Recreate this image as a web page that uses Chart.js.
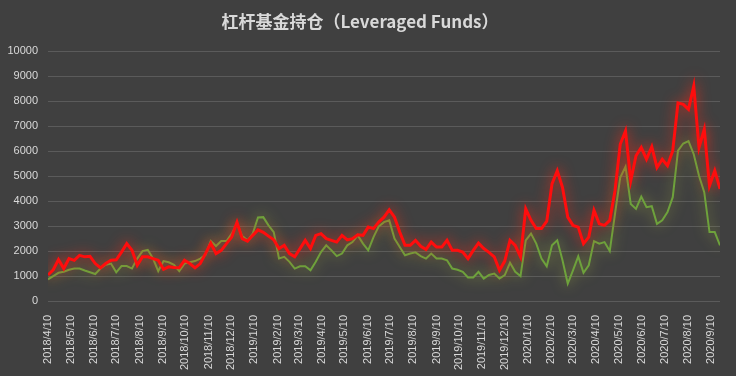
<!DOCTYPE html>
<html>
<head>
<meta charset="utf-8">
<script src="https://cdn.jsdelivr.net/npm/chart.js@4/dist/chart.umd.min.js"></script>
<style>
  html, body { margin: 0; padding: 0; background: #404040; }
  #wrap { width: 736px; height: 376px; position: relative; }
</style>
</head>
<body>
<div id="wrap"><canvas id="fundsChart"></canvas></div>
<script>
// weekly reports, first one on 2018/4/10
const startDate = '2018/4/10';
const weekCount = 129;

const tickLabels = [
  '2018/4/10', '2018/5/10', '2018/6/10', '2018/7/10', '2018/8/10', '2018/9/10',
  '2018/10/10', '2018/11/10', '2018/12/10', '2019/1/10', '2019/2/10', '2019/3/10',
  '2019/4/10', '2019/5/10', '2019/6/10', '2019/7/10', '2019/8/10', '2019/9/10',
  '2019/10/10', '2019/11/10', '2019/12/10', '2020/1/10', '2020/2/10', '2020/3/10',
  '2020/4/10', '2020/5/10', '2020/6/10', '2020/7/10', '2020/8/10', '2020/9/10'
];

const yTicks = [0, 1000, 2000, 3000, 4000, 5000, 6000, 7000, 8000, 9000, 10000];

const redSeries = [
  1040, 1250, 1660, 1300, 1700, 1630, 1830, 1770, 1790, 1500,
  1330, 1500, 1630, 1650, 1960, 2300, 2030, 1430, 1770, 1770,
  1700, 1630, 1270, 1370, 1340, 1330, 1630, 1500, 1330, 1500,
  1900, 2320, 1900, 2030, 2300, 2560, 3160, 2500, 2400, 2630,
  2850, 2750, 2600, 2450, 2100, 2230, 1900, 1770, 2100, 2430,
  2100, 2630, 2700, 2500, 2430, 2360, 2630, 2450, 2500, 2650,
  2630, 2960, 2900, 3160, 3360, 3650, 3360, 2760, 2230, 2230,
  2430, 2190, 2060, 2360, 2160, 2160, 2430, 2030, 2030, 1960,
  1700, 2030, 2320, 2100, 1950, 1770, 1230, 1600, 2430, 2230,
  1770, 3690, 3230, 2900, 2900, 3200, 4690, 5220, 4550, 3360,
  3030, 2960, 2300, 2560, 3630, 3090, 3030, 3230, 4420, 6280,
  6810, 4820, 5820, 6150, 5680, 6180, 5350, 5680, 5420, 6020,
  7940, 7880, 7680, 8610, 6150, 6880, 4620, 5220, 4490
];

const greenSeries = [
  870, 1000, 1130, 1170, 1250, 1300, 1300, 1220, 1150, 1080,
  1300, 1450, 1500, 1150, 1400, 1400, 1300, 1700, 2000, 2050,
  1700, 1200, 1600, 1550, 1450, 1200, 1500, 1550, 1600, 1700,
  1850, 2400, 2200, 2400, 2400, 2700, 3100, 2600, 2430, 2700,
  3350, 3360, 3030, 2760, 1700, 1770, 1570, 1300, 1390, 1390,
  1230, 1570, 1960, 2230, 2030, 1800, 1900, 2230, 2360, 2630,
  2300, 2030, 2560, 2990, 3160, 3230, 2500, 2160, 1830, 1900,
  1950, 1800, 1700, 1900, 1700, 1700, 1630, 1300, 1250, 1170,
  940, 940, 1170, 900, 1040, 1100, 900, 1040, 1530, 1170,
  1000, 2430, 2700, 2300, 1700, 1390, 2230, 2430, 1630, 700,
  1230, 1790, 1130, 1430, 2400, 2300, 2360, 2000, 3490, 4950,
  5380, 3890, 3690, 4180, 3760, 3800, 3090, 3230, 3560, 4160,
  6020, 6310, 6410, 5880, 5020, 4360, 2760, 2760, 2230
];

function dayOffset(label) {
  const [y, m, d] = label.split('/').map(Number);
  const [y0, m0, d0] = startDate.split('/').map(Number);
  return (Date.UTC(y, m - 1, d) - Date.UTC(y0, m0 - 1, d0)) / 86400000;
}

const tickDays = tickLabels.map(dayOffset);
const toPoints = arr => arr.map((v, i) => ({ x: i * 7, y: v }));

// soft halo round each line, like the office glow effect
const glowPlugin = {
  id: 'glow',
  beforeDatasetDraw(chart, args) {
    const ds = chart.data.datasets[args.index];
    chart.ctx.save();
    chart.ctx.shadowColor = ds.glowColor;
    chart.ctx.shadowBlur = 13;
  },
  afterDatasetDraw(chart) {
    chart.ctx.restore();
  }
};

const ctx = document.getElementById('fundsChart').getContext('2d');
new Chart(ctx, {
  type: 'line',
  data: {
    datasets: [
      {
        label: 'red',
        data: toPoints(redSeries),
        borderColor: '#ff0d0d',
        borderWidth: 3,
        glowColor: 'rgba(255, 40, 20, 0.85)',
        pointRadius: 0,
        tension: 0,
        order: 0
      },
      {
        label: 'green',
        data: toPoints(greenSeries),
        borderColor: '#6ea23c',
        borderWidth: 2,
        glowColor: 'rgba(180, 195, 60, 0.7)',
        pointRadius: 0,
        tension: 0,
        order: 1
      }
    ]
  },
  plugins: [glowPlugin],
  options: {
    responsive: true,
    maintainAspectRatio: false,
    animation: false,
    layout: { padding: { left: 0, right: 16, top: 0, bottom: 0 } },
    plugins: {
      legend: { display: false },
      tooltip: { enabled: false },
      title: {
        display: true,
        text: '杠杆基金持仓（Leveraged Funds）',
        color: '#d9d9d9',
        font: { family: '"Noto Sans CJK SC", "Noto Sans", sans-serif', size: 17, weight: '600' },
        padding: { top: 11, bottom: 20 }
      }
    },
    scales: {
      x: {
        type: 'linear',
        min: 0,
        max: (weekCount - 1) * 7,
        grid: { display: false },
        border: { display: false },
        afterBuildTicks(scale) {
          scale.ticks = tickDays.map(v => ({ value: v }));
        },
        afterFit(scale) { scale.height = 75; },
        ticks: {
          autoSkip: false,
          minRotation: 90,
          maxRotation: 90,
          padding: 6,
          color: '#d9d9d9',
          font: { family: '"Liberation Sans", Arial, sans-serif', size: 11 },
          callback(value) {
            const idx = tickDays.indexOf(value);
            return idx >= 0 ? tickLabels[idx] : '';
          }
        }
      },
      y: {
        min: 0,
        max: 10000,
        afterBuildTicks(scale) {
          scale.ticks = yTicks.map(v => ({ value: v }));
        },
        afterFit(scale) { scale.width = 48; },
        grid: { color: '#5b5b5b', lineWidth: 1, drawTicks: false },
        border: { display: false },
        ticks: {
          padding: 10,
          color: '#d9d9d9',
          font: { family: '"Liberation Sans", Arial, sans-serif', size: 11 },
          callback: value => String(value)
        }
      }
    }
  }
});
</script>
</body>
</html>
